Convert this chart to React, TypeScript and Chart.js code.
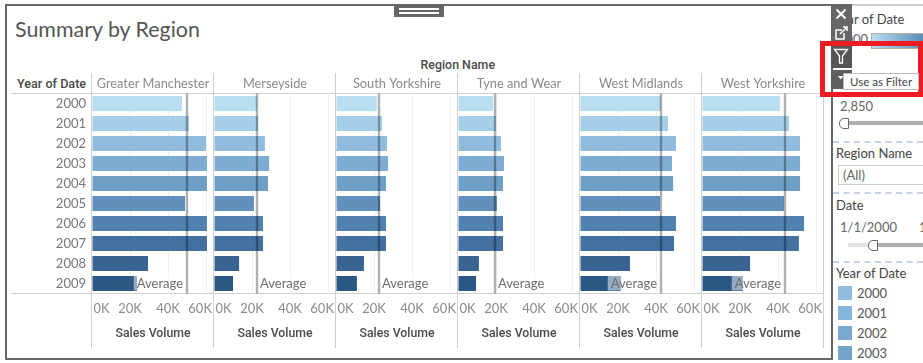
import React, { useEffect, useRef } from "react";
import { Chart, registerables } from "chart.js";

Chart.register(...registerables);

const years = ["2000","2001","2002","2003","2004","2005","2006","2007","2008","2009"];
const barColors = ["#b9ddf1","#a5cfe8","#91bcde","#7facd4","#6e9fc7","#6090bb","#5181b0","#4470a2","#396492","#2a5783"];
const regions = ["Greater Manchester","Merseyside","South Yorkshire","Tyne and Wear","West Midlands","West Yorkshire"];
const greaterManchester = [47.4,51,60,60.5,60.5,49,60.5,60.5,29.5,23.7];
const merseyside = [22.6,23.2,26.8,29,28.4,21,25.8,25.8,13.2,10];
const southYorkshire = [21.5,24.2,26.8,27.4,26.3,23.2,26.3,26.3,14.7,11];
const tyneAndWear = [18.4,20,22.6,24.2,23.7,20.5,23.7,23.7,11,9.5];
const westMidlands = [42.6,46.3,50.5,48.4,49,42.1,50.5,49.5,26.3,21.5];
const westYorkshire = [41,45.8,51.6,51.6,51.6,43.2,53.7,51,25.3,21.5];
const regionValues = [greaterManchester, merseyside, southYorkshire, tyneAndWear, westMidlands, westYorkshire];
const averages = [50, 22.6, 22.6, 19.5, 42.6, 43.7];
const legendYears = ["2000","2001","2002","2003"];
const legendColors = ["#90bddf","#86b4da","#7aa8d0","#74a3c8"];

const FONT = "Lato";
const HEAD_FONT = "Roboto";
const paneLefts = [92, 214, 336, 458, 580, 702];
const PANE_W = 122;

const panelPlugin = {
  id: "panel",
  afterDatasetsDraw(chart: any, _a: any, opts: any) {
    const { ctx, chartArea: a, scales } = chart;
    const sx = scales.x;
    const px = Math.round(sx.getPixelForValue(opts.average));
    ctx.save();
    ctx.font = `13px ${FONT}`;
    ctx.textBaseline = "middle";
    ctx.textAlign = "left";
    const w = ctx.measureText("Average").width;
    const fitsRight = px + 4 + w + 2 < a.right;
    const tx = fitsRight ? px + 3 : px - 4 - w;
    ctx.fillStyle = "rgba(255,255,255,0.5)";
    ctx.fillRect(tx - 3, a.bottom - 18, w + 5, 15);
    ctx.fillStyle = "#6e6e6e";
    ctx.fillText("Average", tx, a.bottom - 9.5);
    ctx.fillStyle = "rgba(0,0,0,0.31)";
    ctx.fillRect(px - 1.2, a.top, 2.4, a.bottom - a.top);
    ctx.font = `13px ${FONT}`;
    ctx.fillStyle = "#8a8a8a";
    ctx.textAlign = "center";
    sx.ticks.forEach((t: any, i: number) => {
      const tw = ctx.measureText(t.label).width;
      const x = Math.min(Math.max(sx.getPixelForTick(i), a.left + 1.5 + tw / 2), a.right - 2 - tw / 2);
      ctx.fillText(t.label, x, a.bottom + 15.5);
    });
    ctx.restore();
  },
};

function Panel({ index }: { index: number }) {
  const ref = useRef<HTMLCanvasElement>(null);
  const first = index === 0;
  useEffect(() => {
    const chart = new Chart(ref.current!, {
      type: "bar",
      data: {
        labels: years,
        datasets: [{ data: regionValues[index], backgroundColor: barColors, barPercentage: 0.75, categoryPercentage: 1, borderWidth: 0 }],
      },
      plugins: [panelPlugin],
      options: {
        indexAxis: "y",
        animation: false,
        responsive: false,
        maintainAspectRatio: false,
        layout: { padding: 0 },
        plugins: {
          legend: { display: false },
          tooltip: { enabled: false },
          title: {
            display: true,
            text: regions[index],
            fullSize: false,
            color: "#8a8a8a",
            font: { family: FONT, size: 12.8, weight: "normal", lineHeight: 1.2 },
            padding: { top: 3, bottom: 2.1 },
          },
          panel: { average: averages[index] },
        },
        scales: {
          x: {
            min: 0,
            max: 64.2,
            afterFit(s: any) { s.height = 54.5; },
            border: { display: false },
            grid: { drawTicks: false, color: (c: any) => (c.tick && c.tick.value === 0 ? "rgba(0,0,0,0)" : "#efefef") },
            ticks: { display: false, stepSize: 20, autoSkip: false, includeBounds: false, callback: (v: any) => `${v}K` },
            title: {
              display: true,
              text: "Sales Volume",
              color: "#4a4a4a",
              font: { family: HEAD_FONT, size: 12.3, weight: "500", lineHeight: 1.2 },
              padding: { top: 0, bottom: 7 },
            },
          },
          y: {
            display: first,
            border: { display: false },
            grid: { display: false, drawTicks: false },
            afterFit(s: any) { s.width = first ? 92 : 0; },
            ticks: { color: "#777777", padding: 6, font: { family: FONT, size: 13 } },
          },
        },
      },
    } as any);
    return () => chart.destroy();
  }, [index]);
  const left = first ? 0 : paneLefts[index];
  const width = first ? paneLefts[0] + PANE_W : PANE_W;
  return <canvas ref={ref} width={width} height={275} style={{ position: "absolute", left, top: 73, width, height: 275, display: "block" }} />;
}

const box = (left: number, top: number, width: number, height: number, background: string, extra: any = {}) => (
  <div style={{ position: "absolute", left, top, width, height, background, ...extra }} />
);
const txt = (s: string, left: number, cy: number, size: number, color: string, extra: any = {}) => (
  <div style={{ position: "absolute", left, top: cy - 10, height: 20, lineHeight: "20px", fontSize: size, color, whiteSpace: "nowrap", fontFamily: FONT, ...extra }}>{s}</div>
);
const dashed = (top: number) => (
  <div style={{ position: "absolute", left: 833, top, width: 90, height: 0, borderTop: "2px dashed #c6d3e5" }} />
);

export default function App() {
  useEffect(() => {
    document.body.style.margin = "0";
    document.body.style.background = "#fff";
  }, []);
  return (
    <div style={{ position: "relative", width: 923, height: 363, overflow: "hidden", background: "#fff", fontFamily: FONT }}>
      {box(5, 4, 826, 2, "#666")}
      {box(5, 4, 2, 356, "#666")}
      {box(5, 358, 828, 2, "#666")}
      {box(831, 4, 2, 356, "#666")}
      {box(852, 4, 71, 2, "#cfcfcf")}
      {box(394, 4, 50, 13, "#666")}
      {box(399, 8, 40, 1.5, "#fff")}
      {box(399, 12, 40, 1.5, "#fff")}
      {txt("Summary by Region", 15, 29, 21.4, "#555")}
      {txt("Region Name", 420.5, 64.5, 12.4, "#4a4a4a", { fontWeight: 500, fontFamily: HEAD_FONT })}
      {txt("Year of Date", 17, 84, 12.6, "#4a4a4a", { fontWeight: 500, fontFamily: HEAD_FONT })}
      {box(11, 93, 812, 1, "#cfcfcf")}
      {box(11, 293, 812, 1, "#cfcfcf")}
      {paneLefts.concat([824]).map((x, i) => <React.Fragment key={i}>{box(x - 1, 73, 1, 275, "#cfcfcf")}</React.Fragment>)}
      {regions.map((_, i) => <Panel key={i} index={i} />)}

      {txt("Year of Date", 834, 19, 13, "#444")}
      {txt("2000", 838, 39, 13, "#666")}
      <div style={{ position: "absolute", left: 871, top: 33, width: 52, height: 14, border: "1px solid #b5ad9c", borderRight: "none", background: "linear-gradient(90deg,#b9ddf1,#5b8cb8)" }} />
      {txt("2,850", 840, 106, 13, "#666")}
      {box(848, 121, 75, 4, "#b0b0b0")}
      <div style={{ position: "absolute", left: 839, top: 118, width: 8, height: 9, border: "1px solid #666", borderRadius: "5px 0 0 5px", background: "#fff" }} />
      {dashed(141)}
      {txt("Region Name", 836, 153, 13, "#444")}
      <div style={{ position: "absolute", left: 838, top: 165, width: 90, height: 20, border: "1px solid #ccc", boxSizing: "border-box" }} />
      {txt("(All)", 843, 175, 13, "#666")}
      {dashed(192)}
      {txt("Date", 836, 205, 13, "#444")}
      {txt("1/1/2000", 840, 227, 13, "#666")}
      {txt("1", 919, 227, 13, "#666")}
      {box(848, 243, 22, 4, "#e4e4e4")}
      {box(876, 243, 47, 4, "#b0b0b0")}
      <div style={{ position: "absolute", left: 868, top: 240, width: 8, height: 9, border: "1px solid #666", borderRadius: "5px 0 0 5px", background: "#fff" }} />
      {dashed(261)}
      {txt("Year of Date", 836, 273, 13, "#444")}
      {legendYears.map((y, i) => (
        <React.Fragment key={y}>
          {box(838, 286 + i * 20, 14, 14, legendColors[i])}
          {txt(y, 857, 293 + i * 20, 13, "#555")}
        </React.Fragment>
      ))}

      {box(831, 4, 21, 42, "#666")}
      {box(831, 46, 21, 22, "#555")}
      {box(831, 70, 21, 19, "#5e5e5e")}
      <svg width="21" height="85" viewBox="0 0 21 85" style={{ position: "absolute", left: 831, top: 4 }} fill="none" stroke="#fff">
        <path d="M5.5 5.5 L14.5 14.5 M14.5 5.5 L5.5 14.5" strokeWidth="2" />
        <path d="M13 29 V35 H5 V26 H11" strokeWidth="1.5" />
        <path d="M9 30 L16 23 M12 23 H16 V27" strokeWidth="1.5" />
        <path d="M3.5 45.5 H16.5 L11.5 52 V59 H8.5 V52 Z" strokeWidth="1.3" />
        <path d="M7 72 H12.5 L9.75 75.5 Z" fill="#fff" stroke="none" />
      </svg>

      <div style={{ position: "absolute", left: 820, top: 41, width: 103, height: 56, boxSizing: "border-box", border: "5px solid #ed1c24" }} />
      <div style={{ position: "absolute", left: 843, top: 73, width: 76, height: 17, boxSizing: "border-box", background: "#fff", border: "1px solid #bbb", lineHeight: "15px", fontSize: 11.5, color: "#444", paddingLeft: 6, whiteSpace: "nowrap" }}>Use as Filter</div>
    </div>
  );
}
